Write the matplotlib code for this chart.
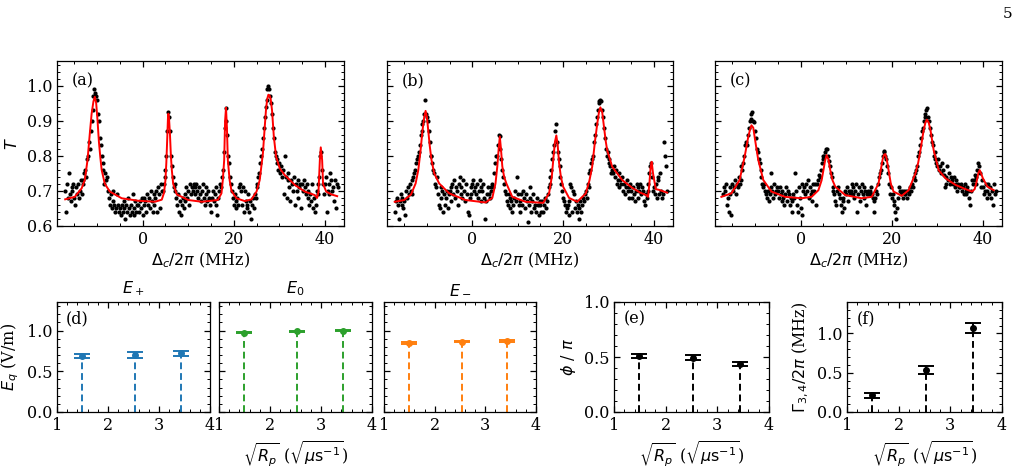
import numpy as np
import matplotlib
matplotlib.use("Agg")
import matplotlib.pyplot as plt
from matplotlib.ticker import MultipleLocator

plt.rcParams['font.family'] = 'serif'
plt.rcParams['font.serif'] = ['DejaVu Serif']
plt.rcParams['mathtext.fontset'] = 'dejavusans'
plt.rcParams['font.size'] = 11

# detuning sweep (MHz), 0.2 MHz step
detuning = np.linspace(-17.0, 42.8, 300)

T_a = [0.70, 0.64, 0.72, 0.68, 0.75, 0.69, 0.67, 0.71, 0.70, 0.72, 0.68, 0.66, 0.71, 0.69, 0.72, 0.68, 0.70, 0.73, 0.69, 0.72,
       0.73, 0.75, 0.76, 0.74, 0.79, 0.80, 0.84, 0.82, 0.87, 0.90, 0.93, 0.97, 0.99, 0.98, 0.97, 0.96, 0.92, 0.90, 0.85, 0.83,
       0.80, 0.78, 0.76, 0.72, 0.75, 0.73, 0.74, 0.70, 0.68, 0.66, 0.69, 0.65, 0.67, 0.70, 0.66, 0.64, 0.65, 0.69, 0.66, 0.64,
       0.65, 0.63, 0.66, 0.64, 0.67, 0.65, 0.62, 0.66, 0.64, 0.68, 0.65, 0.63, 0.66, 0.64, 0.69, 0.65, 0.63, 0.67, 0.64, 0.66,
       0.66, 0.64, 0.67, 0.65, 0.68, 0.63, 0.66, 0.68, 0.67, 0.64, 0.69, 0.66, 0.68, 0.65, 0.70, 0.67, 0.64, 0.69, 0.66, 0.68,
       0.70, 0.64, 0.71, 0.69, 0.65, 0.72, 0.70, 0.70, 0.72, 0.74, 0.76, 0.80, 0.87, 0.925, 0.91, 0.87, 0.80, 0.77, 0.74, 0.71,
       0.70, 0.72, 0.68, 0.66, 0.69, 0.64, 0.67, 0.63, 0.66, 0.68, 0.65, 0.69, 0.67, 0.71, 0.68, 0.70, 0.66, 0.72, 0.69, 0.71,
       0.70, 0.72, 0.71, 0.69, 0.72, 0.70, 0.68, 0.71, 0.69, 0.67, 0.70, 0.72, 0.68, 0.66, 0.69, 0.71, 0.67, 0.70, 0.68, 0.66,
       0.64, 0.68, 0.70, 0.67, 0.69, 0.66, 0.71, 0.63, 0.68, 0.70, 0.72, 0.71, 0.74, 0.76, 0.81, 0.88, 0.935, 0.90, 0.86, 0.80,
       0.78, 0.74, 0.72, 0.70, 0.68, 0.66, 0.69, 0.67, 0.65, 0.68, 0.66, 0.71, 0.72, 0.70, 0.66, 0.71, 0.64, 0.70, 0.67, 0.65,
       0.66, 0.69, 0.64, 0.67, 0.62, 0.66, 0.68, 0.65, 0.69, 0.68, 0.71, 0.72, 0.74, 0.75, 0.78, 0.80, 0.82, 0.85, 0.88, 0.91,
       0.94, 0.96, 0.99, 1.00, 0.99, 0.97, 0.95, 0.92, 0.88, 0.85, 0.81, 0.80, 0.78, 0.79, 0.76, 0.78, 0.75, 0.77, 0.74, 0.76,
       0.69, 0.80, 0.74, 0.68, 0.73, 0.75, 0.71, 0.67, 0.73, 0.72, 0.70, 0.74, 0.66, 0.72, 0.70, 0.73, 0.68, 0.71, 0.72, 0.65,
       0.72, 0.70, 0.73, 0.71, 0.69, 0.72, 0.68, 0.70, 0.66, 0.69, 0.67, 0.72, 0.65, 0.68, 0.64, 0.66, 0.70, 0.72, 0.69, 0.74,
       0.80, 0.81, 0.76, 0.72, 0.69, 0.72, 0.74, 0.64, 0.70, 0.72, 0.69, 0.75, 0.73, 0.70, 0.71, 0.67, 0.73, 0.65, 0.72, 0.71]

T_b = [0.64, 0.67, 0.68, 0.66, 0.62, 0.67, 0.69, 0.66, 0.68, 0.65, 0.67, 0.63, 0.70, 0.68, 0.71, 0.69, 0.72, 0.70, 0.73, 0.69,
       0.74, 0.75, 0.76, 0.78, 0.79, 0.80, 0.81, 0.83, 0.86, 0.87, 0.89, 0.90, 0.92, 0.96, 0.92, 0.91, 0.90, 0.87, 0.84, 0.80,
       0.80, 0.78, 0.76, 0.75, 0.72, 0.71, 0.74, 0.69, 0.66, 0.65, 0.71, 0.68, 0.70, 0.64, 0.69, 0.66, 0.68, 0.70, 0.65, 0.69,
       0.70, 0.67, 0.71, 0.72, 0.69, 0.73, 0.68, 0.71, 0.70, 0.66, 0.72, 0.74, 0.69, 0.71, 0.68, 0.73, 0.70, 0.67, 0.72, 0.69,
       0.64, 0.63, 0.68, 0.71, 0.69, 0.72, 0.73, 0.70, 0.71, 0.69, 0.72, 0.68, 0.70, 0.73, 0.71, 0.67, 0.70, 0.72, 0.68, 0.62,
       0.67, 0.69, 0.71, 0.69, 0.68, 0.71, 0.70, 0.72, 0.71, 0.75, 0.78, 0.80, 0.80, 0.83, 0.86, 0.855, 0.82, 0.79, 0.76, 0.74,
       0.72, 0.70, 0.69, 0.67, 0.66, 0.69, 0.68, 0.65, 0.67, 0.64, 0.66, 0.68, 0.70, 0.67, 0.74, 0.69, 0.66, 0.67, 0.64, 0.69,
       0.66, 0.70, 0.68, 0.65, 0.69, 0.67, 0.61, 0.66, 0.71, 0.68, 0.64, 0.67, 0.69, 0.65, 0.66, 0.64, 0.68, 0.66, 0.63, 0.67,
       0.66, 0.64, 0.67, 0.64, 0.66, 0.68, 0.65, 0.67, 0.69, 0.71, 0.72, 0.74, 0.76, 0.79, 0.81, 0.83, 0.87, 0.89, 0.84, 0.81,
       0.79, 0.77, 0.74, 0.72, 0.70, 0.68, 0.67, 0.66, 0.64, 0.65, 0.66, 0.63, 0.67, 0.72, 0.71, 0.64, 0.70, 0.69, 0.65, 0.67,
       0.64, 0.66, 0.62, 0.65, 0.67, 0.64, 0.66, 0.68, 0.67, 0.69, 0.70, 0.68, 0.72, 0.71, 0.75, 0.76, 0.78, 0.79, 0.80, 0.84,
       0.86, 0.89, 0.91, 0.93, 0.95, 0.955, 0.96, 0.955, 0.93, 0.91, 0.88, 0.85, 0.82, 0.80, 0.81, 0.78, 0.79, 0.77, 0.75, 0.76,
       0.75, 0.77, 0.74, 0.76, 0.72, 0.73, 0.75, 0.71, 0.73, 0.72, 0.74, 0.70, 0.72, 0.69, 0.71, 0.73, 0.70, 0.68, 0.71, 0.72,
       0.70, 0.68, 0.71, 0.69, 0.67, 0.70, 0.72, 0.68, 0.71, 0.70, 0.72, 0.69, 0.71, 0.70, 0.67, 0.66, 0.69, 0.68, 0.70, 0.72,
       0.75, 0.77, 0.78, 0.74, 0.70, 0.71, 0.69, 0.72, 0.68, 0.73, 0.74, 0.69, 0.75, 0.70, 0.68, 0.69, 0.84, 0.80, 0.77, 0.70]

T_c = [0.69, 0.71, 0.70, 0.72, 0.66, 0.68, 0.64, 0.71, 0.69, 0.63, 0.72, 0.70, 0.71, 0.73, 0.69, 0.72, 0.71, 0.74, 0.72, 0.73,
       0.77, 0.76, 0.78, 0.80, 0.83, 0.84, 0.83, 0.86, 0.88, 0.90, 0.905, 0.92, 0.925, 0.90, 0.895, 0.87, 0.85, 0.82, 0.81, 0.79,
       0.78, 0.76, 0.74, 0.72, 0.71, 0.72, 0.70, 0.69, 0.68, 0.70, 0.67, 0.69, 0.71, 0.75, 0.70, 0.68, 0.72, 0.69, 0.70, 0.71,
       0.70, 0.68, 0.71, 0.69, 0.67, 0.70, 0.68, 0.66, 0.69, 0.71, 0.67, 0.70, 0.69, 0.66, 0.68, 0.64, 0.67, 0.69, 0.68, 0.75,
       0.70, 0.66, 0.64, 0.71, 0.68, 0.65, 0.63, 0.72, 0.70, 0.71, 0.69, 0.72, 0.70, 0.73, 0.68, 0.71, 0.69, 0.67, 0.70, 0.72,
       0.70, 0.72, 0.66, 0.72, 0.73, 0.745, 0.74, 0.76, 0.78, 0.79, 0.80, 0.80, 0.81, 0.82, 0.82, 0.80, 0.785, 0.77, 0.75, 0.74,
       0.71, 0.70, 0.69, 0.67, 0.66, 0.70, 0.71, 0.69, 0.68, 0.66, 0.64, 0.67, 0.68, 0.65, 0.70, 0.69, 0.71, 0.67, 0.70, 0.69,
       0.70, 0.72, 0.69, 0.71, 0.68, 0.70, 0.72, 0.64, 0.69, 0.71, 0.67, 0.70, 0.72, 0.69, 0.68, 0.71, 0.70, 0.66, 0.69, 0.70,
       0.69, 0.70, 0.71, 0.69, 0.68, 0.67, 0.64, 0.68, 0.70, 0.69, 0.72, 0.74, 0.75, 0.76, 0.78, 0.80, 0.81, 0.815, 0.80, 0.79,
       0.77, 0.75, 0.72, 0.69, 0.71, 0.68, 0.69, 0.67, 0.66, 0.64, 0.62, 0.65, 0.68, 0.71, 0.70, 0.69, 0.70, 0.68, 0.70, 0.69,
       0.69, 0.70, 0.68, 0.70, 0.69, 0.71, 0.70, 0.72, 0.71, 0.74, 0.73, 0.75, 0.76, 0.77, 0.80, 0.81, 0.83, 0.85, 0.87, 0.88,
       0.90, 0.91, 0.92, 0.93, 0.935, 0.91, 0.90, 0.88, 0.86, 0.84, 0.83, 0.80, 0.81, 0.79, 0.78, 0.77, 0.79, 0.76, 0.77, 0.75,
       0.78, 0.76, 0.745, 0.71, 0.72, 0.74, 0.77, 0.73, 0.75, 0.72, 0.74, 0.73, 0.72, 0.74, 0.71, 0.73, 0.72, 0.70, 0.72, 0.71,
       0.71, 0.72, 0.70, 0.71, 0.69, 0.72, 0.70, 0.69, 0.71, 0.70, 0.68, 0.66, 0.70, 0.73, 0.72, 0.73, 0.745, 0.74, 0.72, 0.76,
       0.78, 0.77, 0.75, 0.71, 0.73, 0.71, 0.69, 0.70, 0.72, 0.68, 0.70, 0.72, 0.69, 0.71, 0.68, 0.70, 0.66, 0.72, 0.69, 0.70]

# fitted curves
fit_a_x = [-17.0, -14.9, -13.4, -12.7, -12.1, -11.6, -11.2, -10.8, -10.5, -10.2, -9.9, -9.6, -9.3, -9.0, -8.3, -7.2,
           -4.6, -1.0, 2.7, 4.2, 4.7, 5.0, 5.2, 5.4, 5.55, 5.65, 5.8, 6.0, 6.2, 6.4, 6.7, 7.5, 10.0, 13.0, 16.5, 17.3,
           17.6, 17.9, 18.1, 18.3, 18.5, 18.7, 19.1, 19.5, 20.6, 22.4, 23.9, 25.0, 25.7, 26.4, 26.8, 27.1, 27.35, 27.6,
           27.85, 28.1, 28.4, 28.8, 29.3, 30.1, 31.2, 33.4, 35.6, 37.8, 38.3, 38.6, 38.9, 39.1, 39.4, 39.6, 40.3, 41.4, 42.7]
fit_a_y = [0.676, 0.683, 0.707, 0.731, 0.788, 0.863, 0.92, 0.955, 0.968, 0.95, 0.90, 0.84, 0.797, 0.76, 0.72, 0.698,
           0.679, 0.672, 0.669, 0.675, 0.695, 0.73, 0.78, 0.85, 0.905, 0.92, 0.905, 0.86, 0.80, 0.76, 0.72, 0.69, 0.674,
           0.669, 0.674, 0.693, 0.731, 0.788, 0.90, 0.937, 0.88, 0.788, 0.73, 0.70, 0.679, 0.671, 0.676, 0.698, 0.731,
           0.807, 0.882, 0.935, 0.962, 0.974, 0.972, 0.962, 0.93, 0.854, 0.797, 0.764, 0.745, 0.717, 0.698, 0.688, 0.68,
           0.698, 0.788, 0.824, 0.788, 0.72, 0.698, 0.69, 0.685]

fit_b_x = [-17.1, -15.0, -13.5, -12.5, -11.9, -11.4, -11.0, -10.6, -10.3, -10.0, -9.7, -9.4, -9.0, -8.4, -7.3, -5.1,
           -1.5, 2.9, 4.4, 5.1, 5.5, 5.8, 6.05, 6.3, 6.6, 7.0, 7.5, 8.8, 11.7, 15.6, 16.9, 17.5, 17.9, 18.2, 18.5, 18.8,
           19.1, 19.5, 20.0, 21.3, 23.1, 25.0, 25.8, 26.4, 27.0, 27.5, 27.9, 28.2, 28.6, 29.0, 29.4, 29.7, 30.8, 33.0,
           35.2, 37.0, 38.3, 38.7, 39.0, 39.25, 39.5, 39.8, 40.4, 41.1, 42.9]
fit_b_y = [0.669, 0.674, 0.69, 0.721, 0.76, 0.816, 0.87, 0.91, 0.928, 0.91, 0.87, 0.83, 0.788, 0.75, 0.721, 0.693,
           0.674, 0.667, 0.68, 0.721, 0.77, 0.82, 0.855, 0.82, 0.77, 0.74, 0.721, 0.683, 0.669, 0.666, 0.693, 0.74,
           0.80, 0.84, 0.858, 0.83, 0.78, 0.74, 0.712, 0.68, 0.669, 0.693, 0.73, 0.769, 0.84, 0.89, 0.925, 0.938, 0.925,
           0.882, 0.84, 0.816, 0.769, 0.731, 0.709, 0.695, 0.688, 0.683, 0.72, 0.765, 0.783, 0.75, 0.705, 0.703, 0.695]

fit_c_x = [-17.4, -15.2, -13.4, -12.3, -11.5, -11.1, -10.8, -10.4, -10.1, -9.7, -9.3, -8.2, -6.4, -3.4, 0.2, 2.4,
           3.9, 4.6, 5.0, 5.35, 5.7, 6.1, 6.5, 7.0, 7.6, 9.8, 13.4, 15.6, 17.1, 17.6, 18.0, 18.3, 18.6, 18.9, 19.3, 19.8,
           20.4, 22.2, 23.7, 25.2, 25.8, 26.3, 27.0, 27.4, 27.7, 28.1, 28.5, 29.2, 30.3, 31.8, 34.0, 36.2, 37.6, 38.2,
           38.6, 39.0, 39.3, 39.6, 40.0, 41.0, 42.4]
fit_c_y = [0.683, 0.693, 0.731, 0.797, 0.854, 0.875, 0.887, 0.88, 0.854, 0.82, 0.788, 0.731, 0.698, 0.683, 0.679,
           0.683, 0.702, 0.73, 0.759, 0.785, 0.802, 0.79, 0.759, 0.73, 0.712, 0.688, 0.679, 0.683, 0.721, 0.76, 0.79,
           0.803, 0.805, 0.79, 0.759, 0.72, 0.698, 0.686, 0.702, 0.75, 0.78, 0.816, 0.873, 0.895, 0.903, 0.895, 0.873,
           0.816, 0.759, 0.736, 0.717, 0.705, 0.698, 0.705, 0.725, 0.75, 0.759, 0.75, 0.736, 0.712, 0.702]

# fitted parameters vs sqrt(R_p)
sqrt_rp = [1.49, 2.53, 3.43]
E_plus = [0.686, 0.698, 0.722]
E_plus_err = [0.024, 0.041, 0.032]
E_zero = [0.975, 0.99, 1.0]
E_zero_err = [0.01, 0.01, 0.01]
E_minus = [0.85, 0.865, 0.875]
E_minus_err = [0.01, 0.01, 0.01]
phi = [0.51, 0.494, 0.435]
phi_err = [0.018, 0.021, 0.017]
gamma = [0.211, 0.534, 1.069]
gamma_err = [0.032, 0.049, 0.069]

W, H = 1021, 468
fig = plt.figure(figsize=(W / 100, H / 100), dpi=100)


def px_axes(x0, x1, y0, y1):
    return fig.add_axes([x0 / W, 1 - y1 / H, (x1 - x0) / W, (y1 - y0) / H])


def style(ax):
    ax.tick_params(which='both', direction='in', top=True, right=True, labelsize=11.5)
    ax.tick_params(which='major', length=4.5, width=0.9)
    ax.tick_params(which='minor', length=2.5, width=0.7)
    for s in ax.spines.values():
        s.set_linewidth(0.9)


top_pos = [(57, 344), (387, 673), (715, 1002)]
panels = [(T_a, fit_a_x, fit_a_y, '(a)'), (T_b, fit_b_x, fit_b_y, '(b)'), (T_c, fit_c_x, fit_c_y, '(c)')]
for i, ((x0, x1), (T, fx, fy, lab)) in enumerate(zip(top_pos, panels)):
    ax = px_axes(x0, x1, 61, 226)
    ax.plot(detuning, T, 'o', color='k', ms=3.0, mew=0)
    ax.plot(fx, fy, '-', color='red', lw=1.4)
    ax.set_xlim(-18.8, 44.2)
    ax.set_ylim(0.6, 1.07)
    ax.xaxis.set_major_locator(MultipleLocator(20))
    ax.xaxis.set_minor_locator(MultipleLocator(5))
    ax.yaxis.set_major_locator(MultipleLocator(0.1))
    ax.yaxis.set_minor_locator(MultipleLocator(0.02))
    style(ax)
    ax.set_xlabel(r'$\Delta_c/2\pi$ (MHz)', fontsize=11.5, labelpad=2)
    if i == 0:
        ax.set_ylabel(r'$T$', fontsize=11.5)
    else:
        ax.tick_params(labelleft=False)
    ax.text(0.05, 0.93, lab, transform=ax.transAxes, fontsize=11.5, va='top')

xlab = r'$\sqrt{R_p}$ ($\sqrt{\mu \mathrm{s}^{-1}}$)'


def stem_panel(ax, y, err, color):
    for xv, yv in zip(sqrt_rp, y):
        ax.plot([xv, xv], [0, yv], color=color, lw=1.4, dashes=(3.5, 2))
    ax.errorbar(sqrt_rp, y, yerr=err, fmt='o', color=color, ms=4, capsize=6,
                elinewidth=1.4, capthick=1.4)
    ax.set_xlim(1, 4)
    ax.xaxis.set_major_locator(MultipleLocator(1))
    ax.xaxis.set_minor_locator(MultipleLocator(0.2))
    ax.yaxis.set_major_locator(MultipleLocator(0.5))
    ax.yaxis.set_minor_locator(MultipleLocator(0.1))
    style(ax)


ax_d = px_axes(57, 210, 302, 412)
stem_panel(ax_d, E_plus, E_plus_err, '#1f77b4')
ax_d.set_ylim(0, 1.35)
ax_d.set_title(r'$E_+$', fontsize=11.5)
ax_d.set_ylabel(r'$E_q$ (V/m)', fontsize=11.5)
ax_d.text(0.06, 0.92, '(d)', transform=ax_d.transAxes, fontsize=11.5, va='top')

ax_0 = px_axes(219, 372, 302, 412)
stem_panel(ax_0, E_zero, E_zero_err, '#2ca02c')
ax_0.set_ylim(0, 1.35)
ax_0.tick_params(labelleft=False)
ax_0.set_title(r'$E_0$', fontsize=11.5)
ax_0.set_xlabel(xlab, fontsize=11.5)

ax_m = px_axes(384, 536, 302, 412)
stem_panel(ax_m, E_minus, E_minus_err, '#ff7f0e')
ax_m.set_ylim(0, 1.35)
ax_m.tick_params(labelleft=False)
ax_m.set_title(r'$E_-$', fontsize=11.5)

ax_e = px_axes(614, 769, 302, 412)
stem_panel(ax_e, phi, phi_err, 'k')
ax_e.set_ylim(0, 1.0)
ax_e.set_ylabel(r'$\phi$ / $\pi$', fontsize=11.5)
ax_e.set_xlabel(xlab, fontsize=11.5)
ax_e.text(0.06, 0.92, '(e)', transform=ax_e.transAxes, fontsize=11.5, va='top')

ax_f = px_axes(847, 1002, 302, 412)
stem_panel(ax_f, gamma, gamma_err, 'k')
ax_f.set_ylim(0, 1.4)
ax_f.set_ylabel(r'$\Gamma_{3,4}/2\pi$ (MHz)', fontsize=11.5)
ax_f.set_xlabel(xlab, fontsize=11.5)
ax_f.text(0.06, 0.92, '(f)', transform=ax_f.transAxes, fontsize=11.5, va='top')

fig.text(1008 / W, 1 - 14 / H, '5', fontsize=11, ha='center', va='center')

fig.savefig('out.png', dpi=100)
